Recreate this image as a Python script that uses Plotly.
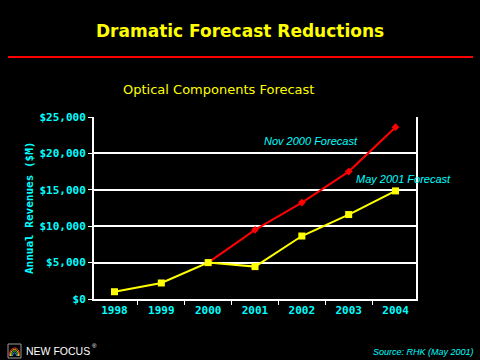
import plotly.graph_objects as go

years = ["1998", "1999", "2000", "2001", "2002", "2003", "2004"]
nov2000 = [None, None, 5000, 9500, 13250, 17500, 23600]
may2001 = [1000, 2200, 5000, 4450, 8650, 11600, 14850]
ytick_vals = [0, 5000, 10000, 15000, 20000, 25000]
ytick_text = ["$0", "$5,000", "$10,000", "$15,000", "$20,000", "$25,000"]

W, H = 480, 360
L, R, T, B = 94, 416, 117, 299


def px(x):
    return (x - L) / (R - L)


def py(y):
    return (B - y) / (B - T)


CYAN = "#00FFFF"
YEL = "#FFFF00"
RED = "#FF0000"

fig = go.Figure()
fig.add_trace(go.Scatter(x=years, y=nov2000, mode="lines+markers",
                         line=dict(color=RED, width=2),
                         marker=dict(symbol="diamond", size=6, color=RED),
                         showlegend=False, connectgaps=False))
fig.add_trace(go.Scatter(x=years, y=may2001, mode="lines+markers",
                         line=dict(color=YEL, width=2),
                         marker=dict(symbol="square", size=7, color=YEL),
                         showlegend=False))

tickfont = dict(family="DejaVu Sans Mono", size=11, color=CYAN, weight="bold")

fig.update_layout(
    width=W, height=H,
    margin=dict(l=L, r=W - R, t=T, b=H - B),
    paper_bgcolor="black", plot_bgcolor="black",
    xaxis=dict(type="category", showline=True, linecolor="white", linewidth=2,
               mirror=False, showgrid=False, ticks="outside", tickson="boundaries",
               tickcolor="white", ticklen=4, tickwidth=1, tickfont=tickfont,
               zeroline=False, fixedrange=True),
    yaxis=dict(range=[0, 25000], tickvals=ytick_vals, ticktext=ytick_text,
               showline=True, linecolor="white", linewidth=2, mirror=True,
               showgrid=True, gridcolor="white", gridwidth=1.5,
               ticks="outside", tickcolor="white", ticklen=4, tickfont=tickfont,
               zeroline=False, fixedrange=True),
)

annos = [
    dict(text="<b>Dramatic Forecast Reductions</b>", x=px(240), y=py(31),
         font=dict(family="DejaVu Sans", size=17, color=YEL)),
    dict(text="Optical Components Forecast", x=px(218), y=py(89),
         font=dict(family="DejaVu Sans", size=13, color=YEL)),
    dict(text="<b>Annual Revenues ($M)</b>", x=px(29), y=py(208), textangle=-90,
         font=dict(family="DejaVu Sans Mono", size=11, color=CYAN)),
    dict(text="<i>Nov 2000 Forecast</i>", x=px(311), y=py(141),
         font=dict(family="Liberation Sans", size=11, color=CYAN)),
    dict(text="<i>May 2001 Forecast</i>", x=px(403), y=py(179),
         font=dict(family="Liberation Sans", size=11, color=CYAN)),
    dict(text="<i>Source: RHK (May 2001)</i>", x=px(476), y=py(352), xanchor="right",
         font=dict(family="Liberation Sans", size=9, color=CYAN)),
    dict(text="NEW FOCUS", x=px(24), y=py(351), xanchor="left",
         font=dict(family="Liberation Sans", size=10.5, color="white")),
    dict(text="®", x=px(90), y=py(346), xanchor="left",
         font=dict(family="Liberation Sans", size=6, color="white")),
]
for a in annos:
    a.setdefault("xanchor", "center")
    fig.add_annotation(xref="paper", yref="paper", showarrow=False, yanchor="middle", **a)

# red rule under title
fig.add_shape(type="line", xref="paper", yref="paper", x0=px(8), x1=px(473),
              y0=py(57), y1=py(57), line=dict(color=RED, width=2))

# logo icon
fig.add_shape(type="rect", xref="paper", yref="paper", x0=px(8), x1=px(21),
              y0=py(358), y1=py(344), line=dict(color="#999999", width=1))
for col, r in [("#FF3030", 5), ("#FFD700", 4), ("#30C030", 3), ("#3080FF", 2)]:
    cx, cy = 14.5, 356
    path = f"M {px(cx - r)},{py(cy)} Q {px(cx - r)},{py(cy - r * 1.6)} {px(cx)},{py(cy - r * 1.6)} Q {px(cx + r)},{py(cy - r * 1.6)} {px(cx + r)},{py(cy)}"
    fig.add_shape(type="path", xref="paper", yref="paper", path=path,
                  line=dict(color=col, width=1))

fig.write_html("out.html", config={"displayModeBar": False})

with open("out.html", encoding="utf-8") as f:
    html = f.read()
html = html.replace("<body>", '<body style="margin:0;padding:0;background:black;overflow:hidden">', 1)
with open("out.html", "w", encoding="utf-8") as f:
    f.write(html)
